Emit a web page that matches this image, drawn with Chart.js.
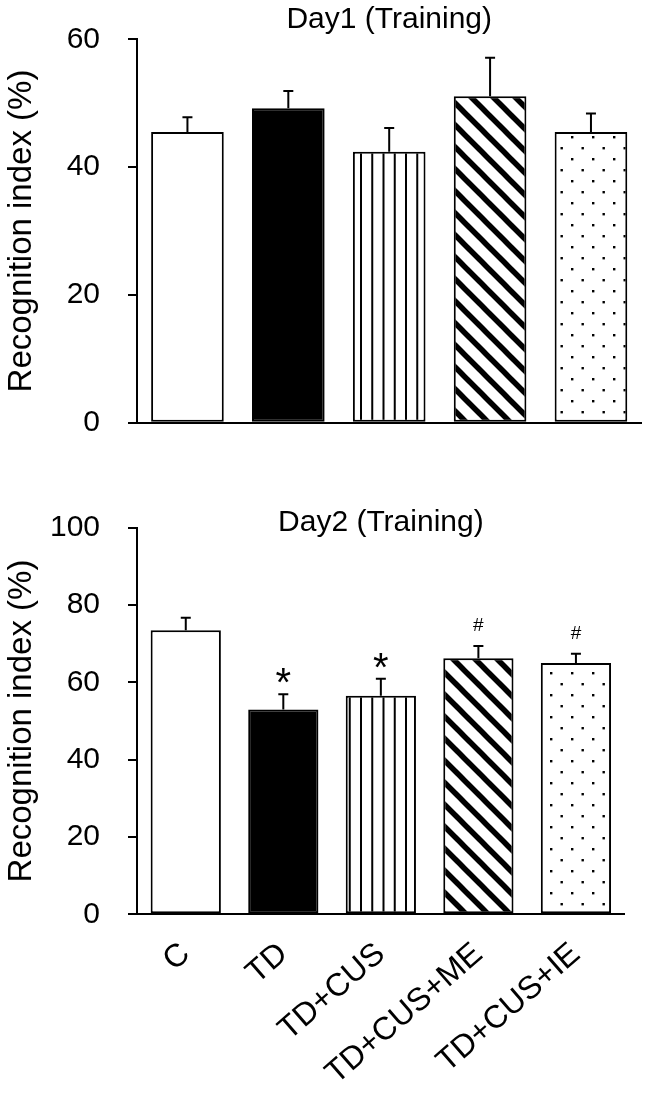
<!DOCTYPE html>
<html><head><meta charset="utf-8">
<script src="https://cdn.jsdelivr.net/npm/chart.js@4.4.1/dist/chart.umd.min.js"></script>
<style>
html,body{margin:0;padding:0;background:#fff;}
#wrap{position:relative;width:653px;height:1103px;overflow:hidden;background:#fff;}
canvas{position:absolute;left:0;}
#c1{top:0;}
#c2{top:470px;}
</style></head><body>
<div id="wrap">
<canvas id="c1" width="653" height="470"></canvas>
<canvas id="c2" width="653" height="633"></canvas>
</div>
<script>
const categories = ['C', 'TD', 'TD+CUS', 'TD+CUS+ME', 'TD+CUS+IE'];
const day1Title = 'Day1 (Training)';
const day2Title = 'Day2 (Training)';
const yAxisTitle = 'Recognition index (%)';
const day1Values = [45.5, 49.2, 42.4, 51.1, 45.5];
const day1Errors = [2.3, 2.7, 3.7, 6.0, 2.9];
const day1Marks = ['', '', '', '', ''];
const day1Ticks = [0, 20, 40, 60];
const day2Values = [73.5, 53.0, 56.5, 66.2, 65.0];
const day2Errors = [3.2, 3.9, 4.4, 3.2, 2.4];
const day2Marks = ['', '*', '*', '#', '#'];
const day2Ticks = [0, 20, 40, 60, 80, 100];

const FONT = '"Liberation Sans", Arial, Helvetica, sans-serif';

function makeTile(w, h, draw) {
  const c = document.createElement('canvas');
  c.width = w; c.height = h;
  const x = c.getContext('2d');
  x.fillStyle = '#fff';
  x.fillRect(0, 0, w, h);
  draw(x);
  return c;
}

function makeFills(ctx) {
  const vert = ctx.createPattern(makeTile(45, 4, x => {
    x.fillStyle = '#000';
    for (let k = 0; k < 4; k++) x.fillRect(k * 11.25, 0, 2, 4);
  }), 'repeat');
  const diag = ctx.createPattern(makeTile(22, 22, x => {
    x.strokeStyle = '#000';
    x.lineWidth = 5.5;
    for (let k = -1; k <= 1; k++) {
      x.beginPath();
      x.moveTo(k * 22 - 22, -22);
      x.lineTo(k * 22 + 44, 44);
      x.stroke();
    }
  }), 'repeat');
  const dots = ctx.createPattern(makeTile(21, 22, x => {
    x.fillStyle = '#000';
    x.fillRect(4, 4, 2.4, 2.4);
    x.fillRect(14.5, 15, 2.4, 2.4);
  }), 'repeat');
  return ['#ffffff', '#000000', vert, diag, dots];
}

function makeErrorPlugin(values, errors, marks) {
  return {
    id: 'errorBars',
    afterDatasetsDraw(chart) {
      const ctx = chart.ctx;
      const meta = chart.getDatasetMeta(0);
      const ys = chart.scales.y;
      ctx.save();
      ctx.strokeStyle = '#000';
      ctx.fillStyle = '#000';
      ctx.lineWidth = 2;
      meta.data.forEach((bar, i) => {
        const x = bar.x;
        const yb = ys.getPixelForValue(values[i]);
        const yt = ys.getPixelForValue(values[i] + errors[i]);
        ctx.beginPath();
        ctx.moveTo(x, yb);
        ctx.lineTo(x, yt);
        ctx.moveTo(x - 5, yt);
        ctx.lineTo(x + 5, yt);
        ctx.stroke();
        const m = marks[i];
        ctx.textAlign = 'center';
        ctx.textBaseline = 'alphabetic';
        if (m === '*') {
          ctx.font = '40px ' + FONT;
          ctx.fillText(m, x, yt + 2);
        } else if (m === '#') {
          ctx.font = '19px ' + FONT;
          ctx.fillText(m, x, yt - 15);
        }
      });
      ctx.restore();
    }
  };
}

function buildChart(canvasId, cfg) {
  const ctx = document.getElementById(canvasId).getContext('2d');
  const fills = makeFills(ctx);
  const ticks = cfg.ticks;
  return new Chart(ctx, {
    type: 'bar',
    data: {
      labels: categories,
      datasets: [{
        data: cfg.values,
        backgroundColor: fills,
        borderColor: '#000',
        borderWidth: 2,
        borderSkipped: false,
        barPercentage: 0.9,
        categoryPercentage: 0.8
      }]
    },
    options: {
      responsive: false,
      animation: false,
      devicePixelRatio: 1,
      layout: { padding: { left: 0, right: cfg.padRight, top: 0, bottom: 0 } },
      plugins: {
        legend: { display: false },
        tooltip: { enabled: false },
        title: {
          display: true,
          text: cfg.title,
          fullSize: false,
          color: '#000',
          font: { family: FONT, size: 30, weight: 'normal', lineHeight: cfg.titleLH },
          padding: cfg.titlePad
        }
      },
      scales: {
        x: {
          grid: { display: false, drawTicks: false },
          border: { display: true, color: '#000', width: 2 },
          ticks: {
            display: cfg.showX, color: '#000',
            font: { family: FONT, size: 32 },
            padding: 21, minRotation: 41, maxRotation: 41, autoSkip: false
          },
          afterFit: s => { s.height = cfg.xHeight; }
        },
        y: {
          min: ticks[0],
          max: ticks[ticks.length - 1],
          ticks: {
            stepSize: ticks[1] - ticks[0],
            color: '#000',
            font: { family: FONT, size: 30 },
            padding: 28
          },
          grid: { display: true, drawOnChartArea: false, drawTicks: true, tickLength: 9, color: '#000', lineWidth: 2 },
          border: { display: true, color: '#000', width: 2 },
          title: {
            display: true, text: yAxisTitle, color: '#000',
            font: { family: FONT, size: 33 },
            padding: { top: 2, bottom: 0 }
          },
          afterFit: s => { s.width = 137; s.paddingTop = 0; s.paddingBottom = 0; }
        }
      }
    },
    plugins: [makeErrorPlugin(cfg.values, cfg.errors, cfg.marks)]
  });
}

buildChart('c1', {
  title: day1Title, values: day1Values, errors: day1Errors, marks: day1Marks, ticks: day1Ticks,
  padRight: 11.6, xHeight: 47.3, showX: false,
  titleLH: '36px', titlePad: { top: 1.7, bottom: 1.6 }
});
buildChart('c2', {
  title: day2Title, values: day2Values, errors: day2Errors, marks: day2Marks, ticks: day2Ticks,
  padRight: 28.3, xHeight: 188.7, showX: true,
  titleLH: '9.4px', titlePad: { top: 48.3, bottom: 0 }
});
</script>
</body></html>
